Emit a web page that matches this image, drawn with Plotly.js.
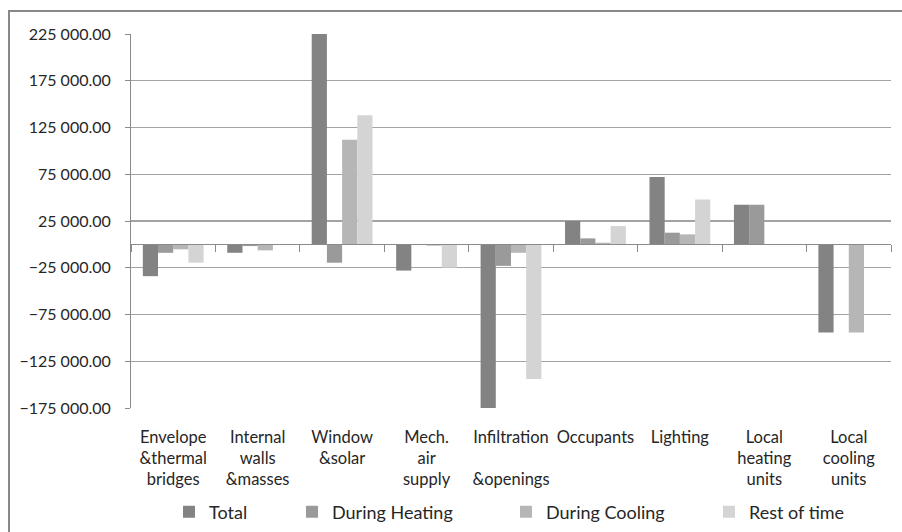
<!DOCTYPE html>
<html>
<head>
<meta charset="utf-8">
<script src="https://cdn.plot.ly/plotly-3.0.1.min.js"></script>
<style>
  html, body { margin: 0; padding: 0; width: 902px; height: 532px; overflow: hidden; background: #fff; }
  #frame { position: absolute; left: 8px; top: 10px; width: 1000px; height: 1000px; border: 2px solid #888888; box-sizing: border-box; }
  #chart { position: absolute; left: 0; top: 0; width: 902px; height: 532px; }
</style>
</head>
<body>
<div id="frame"></div>
<div id="chart"></div>
<script>
// ---- data ----
const categories = [
  "Envelope<br>&thermal<br>bridges",
  "Internal<br>walls<br>&masses",
  "Window<br>&solar",
  "Mech.<br>air<br>supply",
  "Infiltration<br> <br>&openings",
  "Occupants",
  "Lighting",
  "Local<br>heating<br>units",
  "Local<br>cooling<br>units"
];
const seriesNames = ["Total", "During Heating", "During Cooling", "Rest of time"];
const totalVals   = [-34000,  -9000, 225000, -28000, -176000, 25000, 72000, 42400, -94300];
const heatingVals = [ -9000,  -1800, -19600,      0,  -23000,  6400, 12500, 42400,      0];
const coolingVals = [ -5300,  -6400, 111800,  -1400,   -9000,  1800, 10700,     0, -94300];
const restVals    = [-19600,      0, 138000, -24900, -144000, 19600, 48000,     0,      0];
const yTickStart = 25000, yTickStep = 50000, yMin = -175000, yMax = 225000;

// ---- styling ----
const colors = ["#838383", "#9a9a9a", "#b6b6b6", "#d4d4d4"];
const legendX = [169, 292, 506, 709];  // px positions of legend entries
const FONT = "Lato, 'Open Sans', sans-serif";
const W = 902, H = 532;

const allVals = [totalVals, heatingVals, coolingVals, restVals];
const legendIds = ["legend", "legend2", "legend3", "legend4"];
const traces = allVals.map((vals, i) => ({
  type: "bar",
  name: seriesNames[i],
  x: categories,
  y: vals,
  marker: { color: colors[i], line: { width: 0 } },
  legend: legendIds[i],
  hoverinfo: "x+y+name"
}));
// helper trace on the zero-line axis so its category ticks exist
traces.push({
  type: "scatter", mode: "markers", x: categories, y: categories.map(() => null),
  xaxis: "x2", yaxis: "y", showlegend: false, hoverinfo: "skip",
  marker: { opacity: 0 }
});

const zeroFrac = (0 - yMin) / (yMax - yMin);

const layout = {
  width: W, height: H,
  paper_bgcolor: "rgba(0,0,0,0)",
  plot_bgcolor: "rgba(0,0,0,0)",
  margin: { l: 131, r: 11, t: 34, b: 124 },
  separators: ". ",
  font: { family: FONT, size: 16, color: "#262626" },
  barmode: "group",
  bargap: 0.28,
  bargroupgap: 0,
  showlegend: true,
  xaxis: {
    type: "category",
    categoryorder: "array", categoryarray: categories,
    showline: false, showgrid: false, zeroline: false,
    ticks: "", ticklen: 0, ticklabelstandoff: 17,
    tickfont: { family: FONT, size: 16.5, color: "#262626" },
    tickangle: 0
  },
  xaxis2: {
    type: "category",
    categoryorder: "array", categoryarray: categories,
    range: [-0.5, categories.length - 0.5],
    overlaying: "x", anchor: "free", position: zeroFrac,
    side: "bottom",
    showline: true, linecolor: "#8a8a8a", linewidth: 1,
    showgrid: false, zeroline: false, showticklabels: false,
    ticks: "outside", tickson: "boundaries", ticklen: 7, tickcolor: "#8a8a8a", tickwidth: 1
  },
  yaxis: {
    range: [yMin, yMax],
    tick0: yTickStart, dtick: yTickStep,
    tickformat: ",.2f",
    showline: true, linecolor: "#8a8a8a", linewidth: 1,
    showgrid: true, gridcolor: "#a3a3a3", gridwidth: 1.2,
    zeroline: false,
    ticks: "outside", ticklen: 5, tickcolor: "#8a8a8a",
    ticklabelstandoff: 11,
    tickfont: { family: FONT, size: 16, color: "#262626" }
  }
};
legendIds.forEach((id, i) => {
  layout[id] = {
    orientation: "h",
    xref: "container", yref: "container",
    x: legendX[i] / W, xanchor: "left",
    y: 1 - 512 / H, yanchor: "middle",
    bgcolor: "rgba(0,0,0,0)", borderwidth: 0,
    font: { family: FONT, size: 18, color: "#262626" },
    itemwidth: 30,
    traceorder: "normal"
  };
});

Plotly.newPlot("chart", traces, layout, { displayModeBar: false, staticPlot: true });
</script>
</body>
</html>
